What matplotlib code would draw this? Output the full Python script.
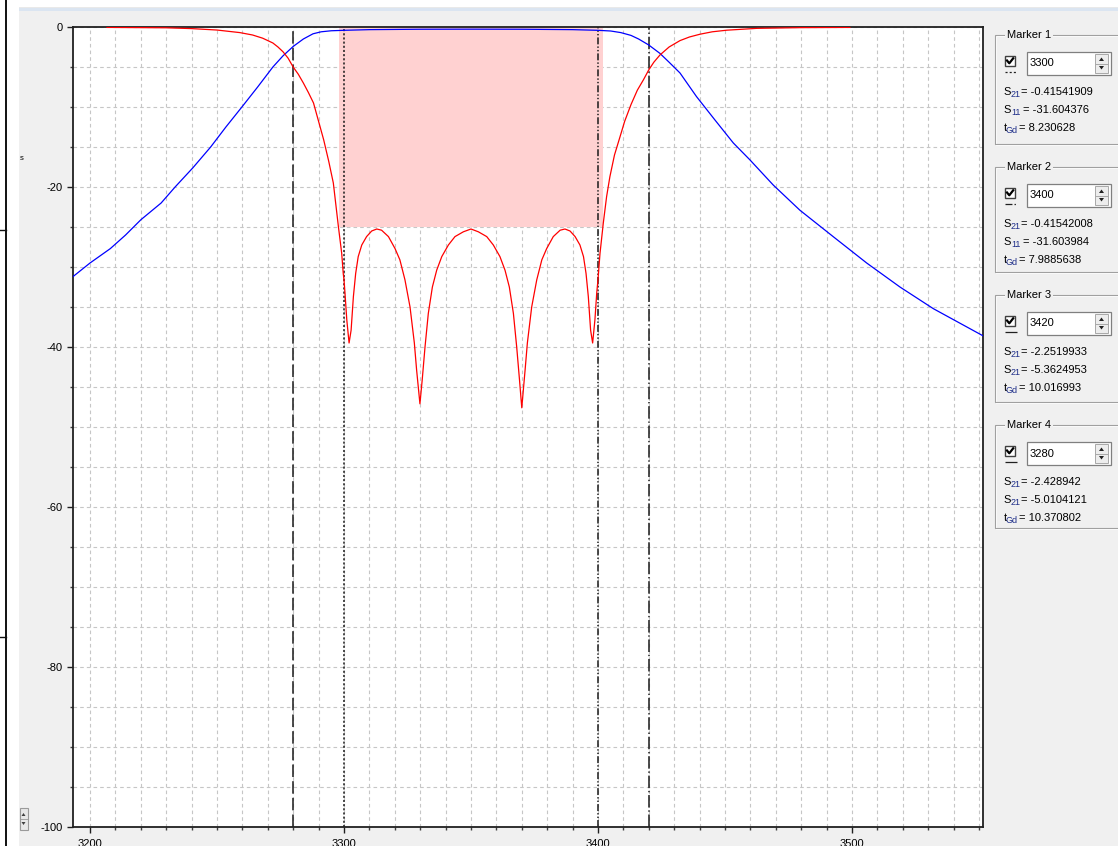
import matplotlib
matplotlib.use('Agg')
import matplotlib.pyplot as plt
from matplotlib.patches import Rectangle, Polygon
from matplotlib.lines import Line2D
from matplotlib.ticker import MultipleLocator, FixedLocator

W, H = 1118, 850
plt.rcParams['font.family'] = ['Liberation Sans', 'DejaVu Sans']
plt.rcParams['lines.scale_dashes'] = False

# ---------------- data ----------------
freq_s21 = [3193.3, 3200, 3208, 3214, 3220, 3228, 3233.5, 3240.5, 3247.5, 3253.5,
            3259.8, 3266, 3272, 3276, 3280, 3284, 3287.8, 3291, 3295, 3300, 3310,
            3330, 3350, 3370, 3390, 3400, 3405, 3409, 3413, 3416, 3420, 3424.4,
            3428, 3432.3, 3438.8, 3446, 3453.3, 3459.8, 3469, 3479.5, 3492.6,
            3505.8, 3518.9, 3532, 3551.6]
s21_db = [-31.2, -29.5, -27.7, -26.0, -24.1, -22.0, -20.0, -17.6, -15.0, -12.5,
          -10.0, -7.5, -5.0, -3.6, -2.43, -1.5, -0.85, -0.6, -0.47, -0.415, -0.33,
          -0.28, -0.27, -0.28, -0.33, -0.415, -0.5, -0.7, -1.05, -1.5, -2.25, -3.3,
          -4.4, -5.75, -8.7, -11.6, -14.5, -16.6, -19.75, -22.9, -26.2,
          -29.5, -32.5, -35.2, -38.6]

freq_s11 = [3206.7, 3230, 3240, 3250, 3259, 3264, 3268, 3272, 3274, 3276, 3278,
            3280, 3282, 3284, 3286, 3288, 3290, 3292, 3294, 3295.8, 3297.8,
            3299.1, 3299.7, 3300, 3300.4, 3301.1, 3302.0, 3302.8, 3303.7, 3304.6,
            3305.6, 3307.0, 3308.9, 3310.9, 3312.9, 3314.8, 3317.5, 3320.1, 3322.0,
            3324.0, 3326.0, 3327.7, 3328.6, 3329.9, 3330.8, 3331.9, 3333.2, 3334.8,
            3336.5, 3338.5, 3341.1, 3343.7, 3347.0, 3350.0, 3352.9, 3356.2,
            3358.8, 3361.4, 3363.4, 3365.1, 3366.7, 3368.0, 3369.1, 3370.0,
            3371.3, 3372.2, 3373.9, 3375.9, 3377.9, 3379.8, 3382.4, 3385.1,
            3387.0, 3389.0, 3391.0, 3392.9, 3394.3, 3395.3, 3396.2, 3397.1,
            3397.9, 3398.8, 3399.5, 3400.0, 3400.8, 3402.1, 3403.4, 3404.7,
            3406.5, 3408.7, 3410.5, 3413, 3415.5, 3417.9, 3420, 3422, 3424.4,
            3428, 3432.3, 3436, 3440.2, 3445, 3450.7, 3462.5, 3480, 3499.2]
s11_db = [-0.05, -0.1, -0.2, -0.38, -0.7, -1.0, -1.4, -2.0, -2.5, -3.1, -3.9,
          -5.01, -5.9, -7.0, -8.2, -9.5, -11.8, -14.1, -16.8, -19.5, -24.96,
          -28.3, -30.8, -31.6, -33.3, -36.6, -39.5, -37.9, -33.7, -30.8,
          -28.7, -27.25, -26.2, -25.5, -25.25, -25.4, -26.2, -27.7, -29.1,
          -31.6, -35.0, -39.5, -42.9, -47.1, -44.1, -40.0, -35.8, -32.5,
          -30.4, -28.7, -27.25, -26.2, -25.6, -25.25, -25.6, -26.2,
          -27.25, -28.7, -30.4, -32.5, -35.8, -40.0, -44.1, -47.6,
          -42.9, -39.5, -35.0, -31.6, -29.1, -27.7, -26.2, -25.4,
          -25.25, -25.5, -26.2, -27.25, -28.7, -30.8, -33.7, -37.9,
          -39.5, -36.6, -33.3, -31.6, -28.3, -24.5, -21.2, -18.7,
          -16.0, -13.7, -11.8, -9.7, -7.9, -6.6, -5.36, -4.4, -3.5,
          -2.5, -1.7, -1.25, -0.9, -0.6, -0.4, -0.17, -0.08, -0.05]

mask_freq = [3298, 3402]
mask_db = -25

marker_names = ['Marker 1', 'Marker 2', 'Marker 3', 'Marker 4']
marker_freqs = [3300, 3400, 3420, 3280]
marker_s21 = ['-0.41541909', '-0.41542008', '-2.2519933', '-2.428942']
marker_sub2 = ['11', '11', '21', '21']
marker_val2 = ['-31.604376', '-31.603984', '-5.3624953', '-5.0104121']
marker_tgd = ['8.230628', '7.9885638', '10.016993', '10.370802']

xticks = [3200, 3300, 3400, 3500]
yticks = [0, -20, -40, -60, -80, -100]

# ---------------- styles ----------------
marker_styles = [(0, (1.5, 1.5)), (0, (5, 1.5, 1, 1.5, 1, 1.5)),
                 (0, (9, 2, 1, 2)), (0, (9, 3))]
box_tops = [35, 167, 295, 425]
box_bottoms = [144, 272, 402, 528]

fig = plt.figure(figsize=(W / 100, H / 100), dpi=100, facecolor='#f0f0f0')
ax = fig.add_axes([73 / W, 1 - 827 / H, (983 - 73) / W, (827 - 27) / H])
ax.set_facecolor('white')
ax.set_axisbelow(True)

ax.set_xlim(3193.3, 3551.6)
ax.set_ylim(-100, 0)

ax.xaxis.set_major_locator(FixedLocator(xticks))
ax.xaxis.set_minor_locator(MultipleLocator(10))
ax.yaxis.set_major_locator(FixedLocator(yticks))
ax.yaxis.set_minor_locator(MultipleLocator(5))
ax.set_xticklabels([str(v) for v in xticks])
ax.set_yticklabels([str(v) for v in yticks])
ax.tick_params(axis='both', which='major', length=4.3, width=1, color='#202020',
               labelsize=8, pad=3)
ax.tick_params(axis='x', which='major', pad=4)
ax.tick_params(axis='both', which='minor', length=2.5, width=1, color='#404040')
ax.grid(which='both', color='#c6c6c6', linestyle=(0, (2.6, 2.2)), linewidth=0.8)
for sp in ax.spines.values():
    sp.set_color('#202020')
    sp.set_linewidth(1.3)

# pass-band mask
ax.add_patch(Rectangle((mask_freq[0], mask_db), mask_freq[1] - mask_freq[0], -mask_db,
                       facecolor='#ffd1d1', edgecolor='none', zorder=1))

# marker lines
for f, ls in zip(marker_freqs, marker_styles):
    ax.axvline(f, color='#1a1a1a', linestyle=ls, linewidth=1.1, zorder=2)

ax.plot(freq_s21, s21_db, color='#0000ff', linewidth=0.9, zorder=3)
ax.plot(freq_s11, s11_db, color='#ff0000', linewidth=0.9, zorder=3)


# ---------------- figure-level helpers (pixel coords, y from top) ----------------
def fline(xs, ys, **kw):
    kw.setdefault('zorder', 10)
    fig.add_artist(Line2D([x / W for x in xs], [1 - y / H for y in ys],
                          transform=fig.transFigure, **kw))


def frect(x, y, w, h, **kw):
    kw.setdefault('zorder', 10)
    fig.add_artist(Rectangle((x / W, 1 - (y + h) / H), w / W, h / H,
                             transform=fig.transFigure, **kw))


def fpoly(pts, **kw):
    kw.setdefault('zorder', 11)
    fig.add_artist(Polygon([(x / W, 1 - y / H) for x, y in pts],
                           transform=fig.transFigure, **kw))


def ftext(x, y, s, **kw):
    kw.setdefault('zorder', 12)
    kw.setdefault('fontsize', 8)
    kw.setdefault('va', 'center')
    fig.text(x / W, 1 - y / H, s, **kw)


# window chrome
frect(0, 0, W, 7, facecolor='white', edgecolor='none')
fline([19, W], [7.5, 7.5], color='#7a7a7a', linewidth=0.8)
frect(19, 8, W - 19, 3, facecolor='#dbe5f1', edgecolor='none')
frect(0, 0, 19, H, facecolor='white', edgecolor='none')
fline([6, 6], [0, H], color='#101010', linewidth=1.4)
fline([0, 6], [230, 230], color='#101010', linewidth=1.0)
fline([0, 6], [637, 637], color='#101010', linewidth=1.0)
frect(0, 846, W, 4, facecolor='white', edgecolor='none')
ftext(20, 159, 's', fontsize=5.5)

# small spin control at bottom left
frect(19.5, 808, 8, 22, facecolor='#e8e8e8', edgecolor='#9a9a9a', linewidth=0.8)
fline([19.5, 27.5], [819, 819], color='#9a9a9a', linewidth=0.6)
fpoly([(21.5, 816), (25.5, 816), (23.5, 813)], facecolor='#404040', edgecolor='none')
fpoly([(21.5, 822), (25.5, 822), (23.5, 825)], facecolor='#404040', edgecolor='none')

# marker panels
for i in range(4):
    top, bot = box_tops[i], box_bottoms[i]
    # etched group box
    frect(996, top + 1, 140, bot - top, facecolor='none', edgecolor='white', linewidth=0.8)
    frect(995, top, 140, bot - top, facecolor='none', edgecolor='#a0a0a0', linewidth=0.8)
    ftext(1007, top, marker_names[i], color='#000000',
          bbox=dict(facecolor='#f0f0f0', edgecolor='none', pad=1.2))
    # checkbox
    cy = top + 21
    frect(1005, cy, 10, 10, facecolor='white', edgecolor='#404040', linewidth=1.0, zorder=11)
    fline([1007, 1009.3, 1013.2], [cy + 4.5, cy + 7.3, cy + 2.3], color='black',
          linewidth=1.6, zorder=12)
    # line-style sample
    fline([1005, 1017], [top + 37, top + 37], color='#202020', linestyle=marker_styles[i],
          linewidth=0.9, zorder=12)
    # text input with spin button
    frect(1027, top + 17, 84, 23, facecolor='white', edgecolor='#7f7f7f', linewidth=0.9, zorder=11)
    ftext(1030, top + 28.5, str(marker_freqs[i]))
    frect(1095, top + 19, 13, 19, facecolor='#ededed', edgecolor='#a8a8a8', linewidth=0.7, zorder=12)
    fline([1095, 1108], [top + 28.5, top + 28.5], color='#a8a8a8', linewidth=0.7, zorder=13)
    fpoly([(1099, top + 26), (1104, top + 26), (1101.5, top + 22.5)], facecolor='#202020',
          edgecolor='none', zorder=13)
    fpoly([(1099, top + 31), (1104, top + 31), (1101.5, top + 34.5)], facecolor='#202020',
          edgecolor='none', zorder=13)
    # values
    y1, y2, y3 = top + 57, top + 75, top + 93
    ftext(1003, y1, 'S')
    ftext(1011, y1 + 2.5, '21', fontsize=6.5, color='#1f2f8a')
    ftext(1021, y1, '= ' + marker_s21[i])
    ftext(1003, y2, 'S')
    ftext(1011, y2 + 2.5, marker_sub2[i], fontsize=6.5, color='#1f2f8a')
    ftext(1021 if marker_sub2[i] == '21' else 1023, y2, '= ' + marker_val2[i])
    ftext(1003.5, y3, 't')
    ftext(1006, y3 + 2.5, 'Gd', fontsize=6.5, color='#1f2f8a')
    ftext(1019, y3, '= ' + marker_tgd[i])

fig.savefig('out.png', dpi=100, facecolor=fig.get_facecolor())
